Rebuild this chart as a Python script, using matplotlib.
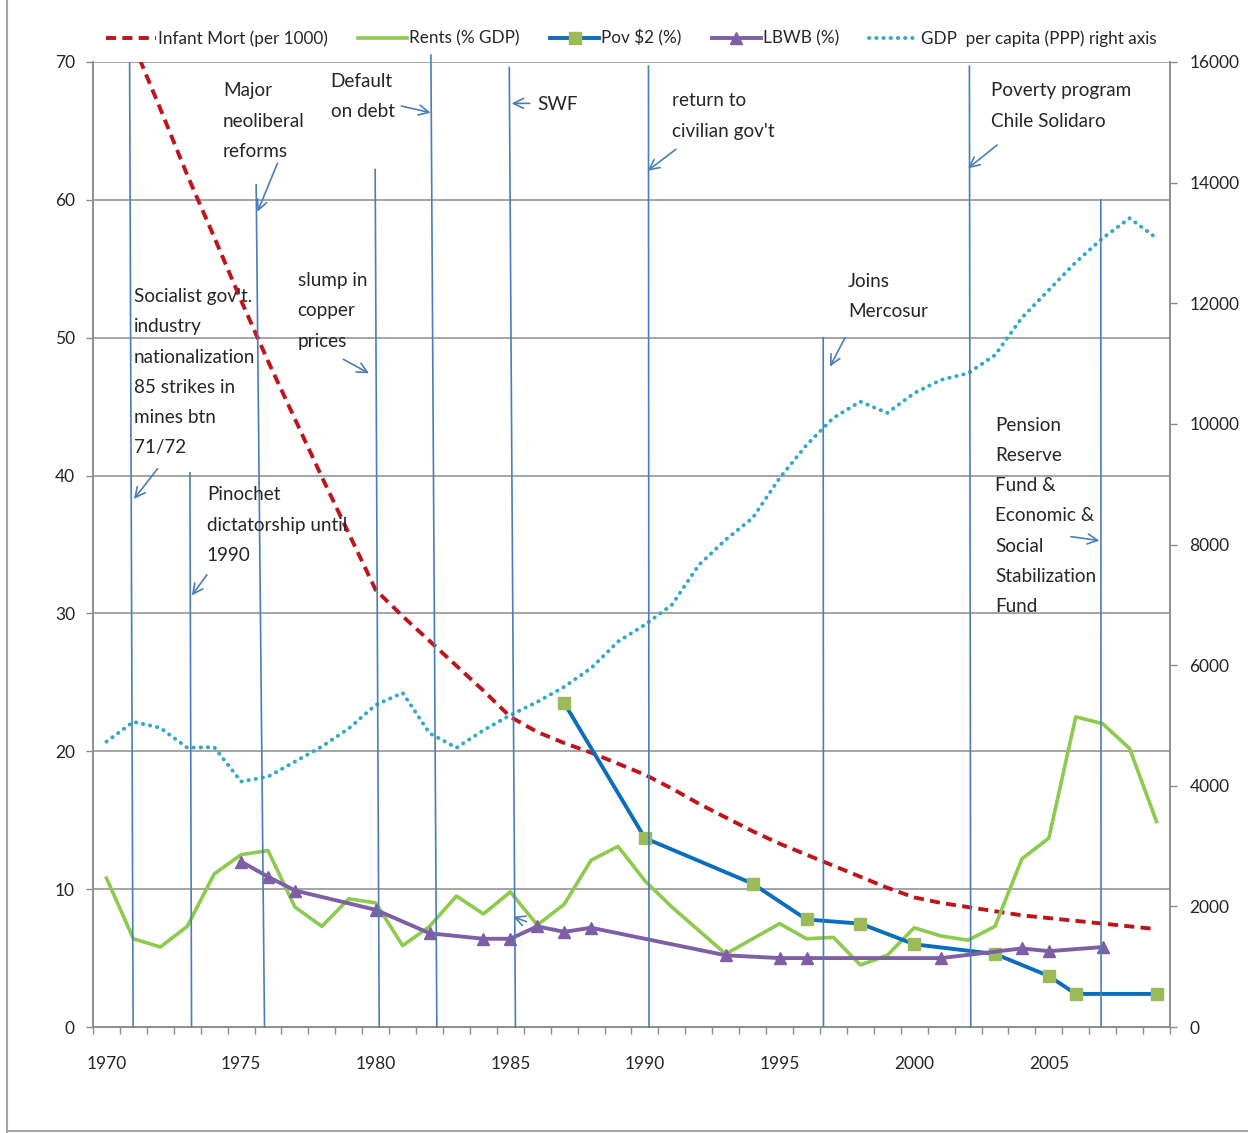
import matplotlib
matplotlib.use("Agg")
import matplotlib.pyplot as plt
from matplotlib.lines import Line2D

# Chile indicators 1970-2009
years = list(range(1970, 2010))
infant_mort = [76.0, 71.3, 66.6, 61.8, 57.3, 52.7, 48.3, 44.1, 39.9, 35.8,
               31.7, 29.8, 28.0, 26.2, 24.4, 22.5, 21.4, 20.6, 19.9, 19.1,
               18.3, 17.3, 16.2, 15.2, 14.2, 13.3, 12.5, 11.7, 10.9, 10.1,
               9.4, 9.0, 8.7, 8.4, 8.1, 7.9, 7.7, 7.5, 7.3, 7.1]
rents = [10.8, 6.4, 5.8, 7.3, 11.1, 12.5, 12.8, 8.7, 7.3, 9.3,
         9.0, 5.9, 7.3, 9.5, 8.2, 9.8, 7.4, 8.9, 12.1, 13.1,
         10.6, 8.7, 7.0, 5.3, 6.4, 7.5, 6.4, 6.5, 4.5, 5.2,
         7.2, 6.6, 6.3, 7.3, 12.2, 13.7, 22.5, 22.0, 20.2, 14.9]
pov_years = [1987, 1990, 1994, 1996, 1998, 2000, 2003, 2005, 2006, 2009]
pov = [23.5, 13.7, 10.4, 7.8, 7.5, 6.0, 5.3, 3.7, 2.4, 2.4]
lbwb_years = [1975, 1976, 1977, 1980, 1982, 1984, 1985, 1986, 1987, 1988,
              1993, 1995, 1996, 2001, 2004, 2005, 2007]
lbwb = [12.0, 10.9, 9.9, 8.5, 6.8, 6.4, 6.4, 7.3, 6.9, 7.2,
        5.2, 5.0, 5.0, 5.0, 5.7, 5.5, 5.8]
gdp = [4730, 5060, 4960, 4630, 4640, 4070, 4150, 4400, 4650, 4950,
       5340, 5540, 4870, 4630, 4920, 5170, 5390, 5640, 5950, 6390,
       6670, 7000, 7660, 8080, 8440, 9100, 9650, 10100, 10370, 10180,
       10510, 10730, 10840, 11140, 11760, 12220, 12680, 13080, 13410, 13080]

# hand drawn event lines: (x at top, x at bottom, top value)
events = [(1970.86, 1970.99, 69.9), (1973.10, 1973.16, 40.2),
          (1975.56, 1975.87, 61.1), (1979.98, 1980.13, 62.2),
          (1982.05, 1982.27, 70.5), (1984.96, 1985.19, 69.6),
          (1990.13, 1990.15, 69.7), (1996.62, 1996.63, 50.0),
          (2002.05, 2002.10, 69.7), (2006.93, 2006.94, 60.0)]

# notes: text, text position, arrow tail, arrow head
notes = [
    ("Socialist gov't.\nindustry\nnationalization\n85 strikes in\nmines btn\n71/72",
     (1971.02, 47.5), (1971.90, 40.5), (1971.02, 38.3)),
    ("Major\nneoliberal\nreforms", (1974.32, 65.7), (1976.35, 62.65), (1975.61, 59.14)),
    ("Default\non debt", (1978.33, 67.5), (1980.95, 66.81), (1982.04, 66.32)),
    ("SWF", (1986.01, 66.95), (1985.72, 67.0), (1985.05, 67.0)),
    ("return to\ncivilian gov't", (1991.02, 66.08), (1991.15, 63.67), (1990.10, 62.11)),
    ("Poverty program\nChile Solidaro", (2002.86, 66.81), (2003.08, 63.98), (2002.0, 62.29)),
    ("Joins\nMercosur", (1997.55, 52.97), (1997.43, 50.0), (1996.87, 47.9)),
    ("slump in\ncopper\nprices", (1977.10, 51.94), (1978.80, 48.43), (1979.75, 47.42)),
    ("Pinochet\ndictatorship until\n1990", (1973.73, 36.41), (1973.73, 32.8), (1973.17, 31.3)),
    ("Pension\nReserve\nFund &\nEconomic &\nSocial\nStabilization\nFund",
     (2003.0, 37.07), (2005.82, 35.57), (2006.88, 35.28)),
    ("", (1985.6, 7.64), (1985.6, 7.64), (1985.1, 8.0)),
]

plt.rcParams['font.family'] = ['Lato', 'DejaVu Sans']
txt = '#262626'
grid_c = '#8c8c8c'
ev_c = '#4A7EBB'

fig = plt.figure(figsize=(12.48, 11.33), dpi=100)
ax = fig.add_axes([93 / 1248, 106 / 1133, 1077 / 1248, 965 / 1133])
ax2 = ax.twinx()

ax.plot(years, infant_mort, color='#C0141C', lw=2.8, dashes=(2.6, 1.6),
        label='Infant Mort (per 1000)')
ax.plot(years, rents, color='#8DCB4E', lw=2.6, label='Rents (% GDP)')
ax.plot(pov_years, pov, color='#0A6EBD', lw=2.8, marker='s', ms=8,
        mfc='#9BBB59', mec='#9BBB59', label='Pov \\$2 (%)')
ax.plot(lbwb_years, lbwb, color='#7E5FA6', lw=2.8, marker='^', ms=9,
        mfc='#7E5FA6', mec='#7E5FA6', label='LBWB (%)')
ax2.plot(years, gdp, color='#31A9C9', lw=2.8, linestyle=(0, (0.1, 1.75)),
         dash_capstyle='round', label='GDP  per capita (PPP) right axis')

ax.set_xlim(1969.5, 2009.5)
ax.set_ylim(0, 70)
ax2.set_ylim(0, 16000)
ax.set_yticks(range(0, 71, 10))
ax2.set_yticks(range(0, 16001, 2000))
ax.set_xticks(range(1970, 2009, 5))
ax.set_xticks([y - 0.5 for y in years] + [2009.5], minor=True)
ax.yaxis.grid(True, color=grid_c, lw=1.1)
ax.set_axisbelow(True)

for a in (ax, ax2):
    for s in a.spines.values():
        s.set_color(grid_c)
        s.set_linewidth(1.1)
    a.spines['top'].set_visible(False)
ax.tick_params(axis='x', which='major', length=0, pad=21, labelsize=12.5, labelcolor=txt)
ax.tick_params(axis='x', which='minor', length=5, color=grid_c, width=1)
ax.tick_params(axis='y', length=5, color=grid_c, width=1, pad=8, labelsize=12.5, labelcolor=txt)
ax2.tick_params(axis='y', length=5, color=grid_c, width=1, pad=9, labelsize=12.5, labelcolor=txt)

# event lines and notes on top
for xt, xb, top in events:
    ax2.plot([xt, xb], [top, 0], color=ev_c, lw=1.2, transform=ax.transData,
             clip_on=False, zorder=5)
for text, pos, tail, head in notes:
    ax2.annotate('', xy=head, xytext=tail, xycoords=ax.transData,
                 textcoords=ax.transData,
                 arrowprops=dict(arrowstyle='->', color=ev_c, lw=1.2,
                                 mutation_scale=18, shrinkA=0, shrinkB=0),
                 zorder=6)
    if text:
        ax2.text(pos[0], pos[1], text, transform=ax.transData, fontsize=13.6,
                 color=txt, ha='left', va='center', linespacing=1.95, zorder=6)

h1, l1 = ax.get_legend_handles_labels()
h2, l2 = ax2.get_legend_handles_labels()
leg = ax2.legend(h1 + h2, l1 + l2, loc='lower center', bbox_to_anchor=(0.5, 1.0),
                 ncol=5, frameon=False, fontsize=12.3, handlelength=2.9,
                 handletextpad=0.12, columnspacing=1.75, borderaxespad=0.5)
for t in leg.get_texts():
    t.set_color(txt)

fig.add_artist(Line2D([7 / 1248, 7 / 1248], [0, 1], color='#a6a6a6', lw=1.5,
                      transform=fig.transFigure))
fig.add_artist(Line2D([7 / 1248, 1], [2 / 1133, 2 / 1133], color='#a6a6a6', lw=1.5,
                      transform=fig.transFigure))

fig.savefig('out.png', dpi=100, facecolor='white')
